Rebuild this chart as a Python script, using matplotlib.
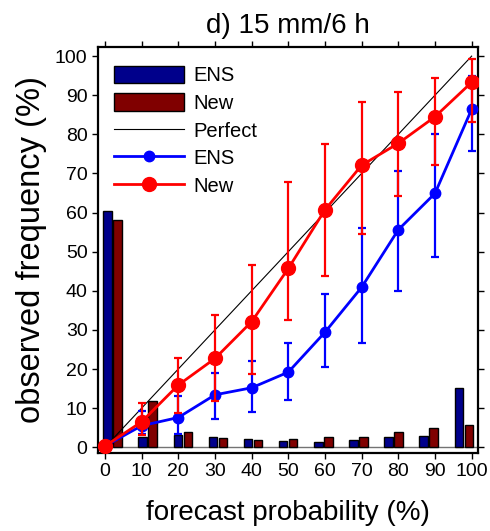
import numpy as np
import matplotlib
matplotlib.use("Agg")
import matplotlib.pyplot as plt
from matplotlib.patches import Patch
from matplotlib.lines import Line2D

plt.rcParams['font.family'] = ['Liberation Sans', 'DejaVu Sans']

# forecast probability bins (%)
probs = np.array([0, 10, 20, 30, 40, 50, 60, 70, 80, 90, 100])

# relative frequency of forecasts in each bin (%)
ens_freq = [60.4, 2.5, 3.0, 2.7, 2.1, 1.5, 1.35, 1.9, 2.6, 2.9, 15.2]
new_freq = [58.1, 11.8, 3.9, 2.4, 1.9, 2.0, 2.5, 2.6, 3.9, 4.8, 5.7]

# observed frequency with confidence range (%)
ens_obs = np.array([0.3, 5.5, 7.6, 13.4, 15.2, 19.2, 29.4, 40.9, 55.6, 64.9, 86.4])
ens_lo = np.array([0.3, 3.3, 3.4, 7.2, 9.1, 12.1, 20.4, 26.6, 40.0, 48.6, 75.7])
ens_hi = np.array([0.3, 9.3, 13.1, 19.1, 22.1, 26.7, 39.1, 56.0, 70.6, 80.2, 95.0])

new_obs = np.array([0.3, 6.5, 15.9, 22.7, 32.1, 45.7, 60.7, 72.1, 77.7, 84.5, 93.3])
new_lo = np.array([0.3, 3.1, 8.8, 11.7, 18.7, 32.5, 43.9, 54.5, 64.2, 72.1, 83.2])
new_hi = np.array([0.3, 11.4, 22.9, 33.8, 46.6, 67.8, 77.5, 88.2, 90.7, 94.3, 99.2])

ens_col = '#00008b'
new_col = '#800000'

fig = plt.figure(figsize=(4.9, 5.31), dpi=100)
ax = fig.add_axes([0.2, 0.147, 0.7745, 0.765])

# bar pairs sit slightly shifted inside each bin
bw = 2.3
bx = 0.7 + 0.958 * probs
ax.bar(bx, ens_freq, width=bw, color=ens_col, edgecolor='black', linewidth=1, zorder=2)
ax.bar(bx + 2.73, new_freq, width=bw, color=new_col, edgecolor='black', linewidth=1, zorder=2)
ax.axhline(0, color='0.45', lw=1, zorder=1)

ax.plot([0, 100], [0, 100], color='black', lw=0.8, zorder=3)

ax.errorbar(probs[1:], ens_obs[1:], yerr=[ens_obs[1:] - ens_lo[1:], ens_hi[1:] - ens_obs[1:]],
            fmt='none', ecolor='blue', elinewidth=1.6, capsize=3, capthick=1.6, zorder=4)
ax.plot(probs, ens_obs, '-o', color='blue', lw=2, ms=7.5, zorder=5)

ax.errorbar(probs[1:], new_obs[1:], yerr=[new_obs[1:] - new_lo[1:], new_hi[1:] - new_obs[1:]],
            fmt='none', ecolor='red', elinewidth=1.6, capsize=3, capthick=1.6, zorder=6)
ax.plot(probs, new_obs, '-o', color='red', lw=2, ms=10, zorder=7)

ax.set_xlim(-1.9, 101.6)
ax.set_ylim(-1.46, 102.4)
ax.set_xticks(probs)
ax.set_yticks(np.arange(0, 101, 10))
ax.tick_params(direction='out', top=True, right=True, length=4, width=1, labelsize=14)
for s in ax.spines.values():
    s.set_linewidth(1.6)

ax.set_xlabel('forecast probability (%)', fontsize=20, labelpad=14)
ax.set_ylabel('observed frequency (%)', fontsize=23.5, labelpad=6)
ax.set_title('d) 15 mm/6 h', fontsize=20, pad=10)

handles = [
    Patch(facecolor=ens_col, edgecolor='black', label='ENS'),
    Patch(facecolor=new_col, edgecolor='black', label='New'),
    Line2D([], [], color='black', lw=0.8, label='Perfect'),
    Line2D([], [], color='blue', lw=2, marker='o', ms=7.5, label='ENS'),
    Line2D([], [], color='red', lw=2, marker='o', ms=10, label='New'),
]
ax.legend(handles=handles, loc='upper left', frameon=False, fontsize=14.5,
          handlelength=3.5, handleheight=0.95, labelspacing=0.4, handletextpad=0.45,
          borderaxespad=0.3, bbox_to_anchor=(0.005, 0.988))

fig.savefig('out.png', dpi=100)
